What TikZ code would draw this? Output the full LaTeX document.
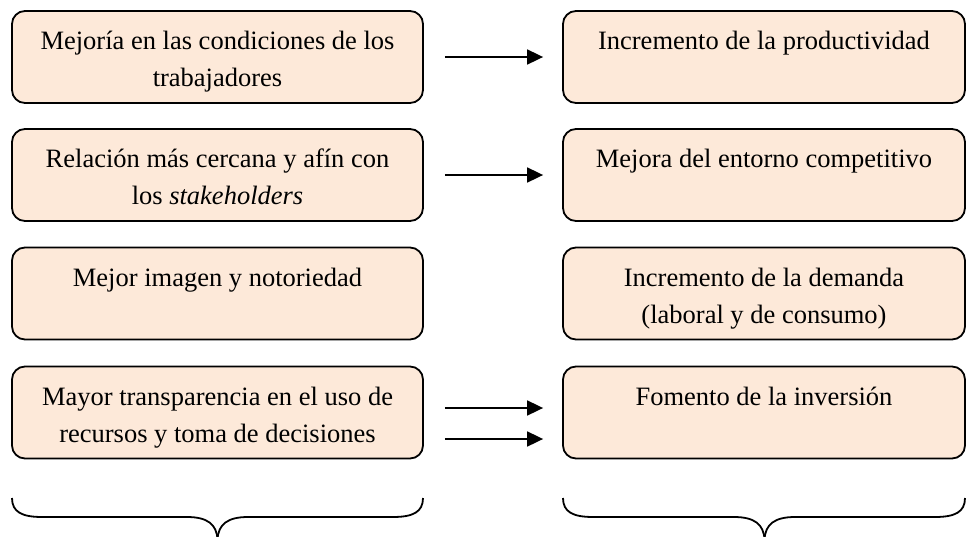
\documentclass[tikz,border=0pt]{standalone}
\usepackage{fontspec}
\setmainfont{Liberation Serif}
\usetikzlibrary{arrows.meta}

\definecolor{melocoton}{RGB}{253,233,217}

\begin{document}
\begin{tikzpicture}[x=1pt,y=1pt,yscale=-1,xscale=1,
  caja/.style={draw, line width=1.8pt, rounded corners=13pt, fill=melocoton, minimum height=92pt, inner sep=0pt},
  izq/.style={caja, minimum width=411pt},
  der/.style={caja, minimum width=402pt},
  texto/.style={anchor=north, inner sep=0pt, align=center, font=\fontsize{26.5}{37}\selectfont},
  flecha/.style={line width=1.8pt, -{Triangle[length=16pt,width=15pt]}},
  llave/.style={line width=1.8pt}]
\useasboundingbox (0,0) rectangle (967,536);

%Rounded Rect (columna izquierda)
\node[izq] (izq1) at (217.5,57) {};
\node[izq] (izq2) at (217.5,175) {};
\node[izq] (izq3) at (217.5,293.5) {};
\node[izq] (izq4) at (217.5,412.5) {};
%Rounded Rect (columna derecha)
\node[der] (der1) at (764,57) {};
\node[der] (der2) at (764,175) {};
\node[der] (der3) at (764,293.5) {};
\node[der] (der4) at (764,412.5) {};

% Text Node
\node[texto] (t_izq1) at ([yshift=21]izq1.north) {Mejoría en las condiciones de los\\trabajadores};
% Text Node
\node[texto] (t_izq2) at ([yshift=21]izq2.north) {Relación más cercana y afín con\\los \textit{stakeholders}};
% Text Node
\node[texto] (t_izq3) at ([yshift=21]izq3.north) {Mejor imagen y notoriedad};
% Text Node
\node[texto] (t_izq4) at ([yshift=21]izq4.north) {Mayor transparencia en el uso de\\recursos y toma de decisiones};
% Text Node
\node[texto] (t_der1) at ([yshift=21]der1.north) {Incremento de la productividad};
% Text Node
\node[texto] (t_der2) at ([yshift=21]der2.north) {Mejora del entorno competitivo};
% Text Node
\node[texto] (t_der3) at ([yshift=21]der3.north) {Incremento de la demanda\\(laboral y de consumo)};
% Text Node
\node[texto] (t_der4) at ([yshift=21]der4.north) {Fomento de la inversión};

%Straight Lines
\draw[flecha] ([xshift=21]izq1.east) -- ([xshift=-19]der1.west);
\draw[flecha] ([xshift=21]izq2.east) -- ([xshift=-19]der2.west);
\draw[flecha] ([shift={(21,-4.5)}]izq4.east) -- ([shift={(-19,-4.5)}]der4.west);
\draw[flecha] ([shift={(21,26.5)}]izq4.east) -- ([shift={(-19,26.5)}]der4.west);

%Shape: Brace
\draw[llave] (12,498) .. controls (12,512) and (22,517) .. (42,517) -- (187,517)
  .. controls (207,517) and (217,524) .. (217.5,540);
\draw[llave] (423,498) .. controls (423,512) and (413,517) .. (393,517) -- (248,517)
  .. controls (228,517) and (218,524) .. (217.5,540);
%Shape: Brace
\draw[llave] (563,498) .. controls (563,512) and (573,517) .. (593,517) -- (734,517)
  .. controls (754,517) and (764,524) .. (764.5,540);
\draw[llave] (965,498) .. controls (965,512) and (955,517) .. (935,517) -- (795,517)
  .. controls (775,517) and (765,524) .. (764.5,540);

\end{tikzpicture}
\end{document}
